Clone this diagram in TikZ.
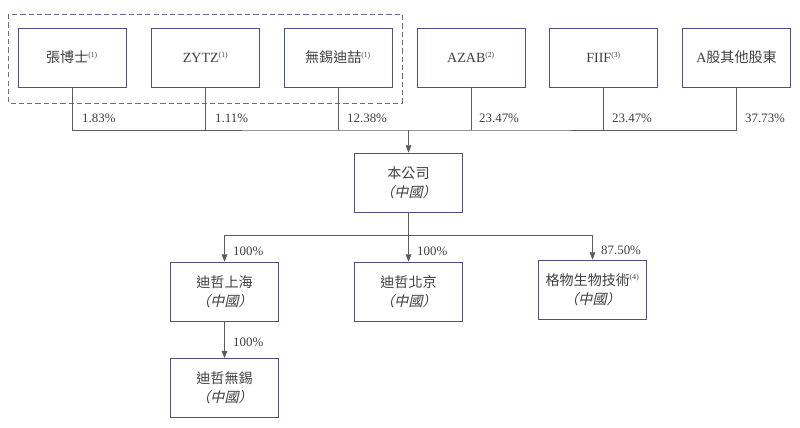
\documentclass[tikz,border=0pt]{standalone}
\usepackage{fontspec}
\setmainfont{Liberation Serif}
\newfontfamily\cjk{Noto Sans CJK TC}
\newfontfamily\cjkit[FakeSlant=0.22]{Noto Sans CJK TC}
\usetikzlibrary{arrows.meta}
\definecolor{boxline}{HTML}{4E4E88}
\definecolor{linkgray}{HTML}{5C5C5C}
\definecolor{txtgray}{HTML}{404040}
\newcommand{\fnmark}[1]{\textsuperscript{\rmfamily\fontsize{6.5}{7}\selectfont(#1)}}
\newcommand{\prc}{{\cjkit（中國）}}

\begin{document}
\begin{tikzpicture}[x=0.03cm, y=-0.03cm, thin,
  holder/.style={draw=boxline, fill=white, minimum width=3.24cm, minimum height=1.77cm, text=txtgray, align=center, font=\fontsize{12}{16.5}\selectfont\cjk, line width=0.6pt},
  link/.style={draw=linkgray, line width=0.6pt},
  pct/.style={anchor=west, text=txtgray, font=\fontsize{11}{13}\selectfont, inner sep=0pt},
  tip/.style={-{Triangle[length=2.2mm,width=1.7mm]}}]

            \useasboundingbox (0,0) rectangle (800,428);

            % shareholders
            \node[holder] at (72, 57.5) (zhang) {張博士\fnmark{1}};
            \node[holder] at (205.5, 57.5) (zytz) {\rmfamily ZYTZ\fnmark{1}};
            \node[holder] at (338, 57.5) (wuxi) {無錫迪喆\fnmark{1}};
            \node[holder] at (471, 57.5) (azab) {\rmfamily AZAB\fnmark{2}};
            \node[holder] at (603.5, 57.5) (fiif) {\rmfamily FIIF\fnmark{3}};
            \node[holder] at (736.5, 57.5) (others) {{\rmfamily A}股其他股東};
            \draw[boxline!85, line width=0.6pt, dash pattern=on 4.5pt off 2.6pt] (8,14) rectangle (402,103);

            % company and subsidiaries
            \node[holder] at (408.5, 182.5) (gongsi) {本公司\\\prc};
            \node[holder] at (224.5, 291.5) (shanghai) {迪哲上海\\\prc};
            \node[holder] at (408.5, 291.5) (beijing) {迪哲北京\\\prc};
            \node[holder] at (592.5, 289.5) (gewu) {格物生物技術\fnmark{4}\\\prc};
            \node[holder] at (224.5, 388) (wuxisub) {迪哲無錫\\\prc};

            \coordinate (bus) at (408.5, 130);
            \coordinate (bus2) at (408.5, 235);

            \draw[link] (zhang.south) |- (bus) -| (others.south);
            \draw[link] (zytz.south) -- (zytz.south |- bus);
            \draw[link] (wuxi.south) -- (wuxi.south |- bus);
            \draw[link] (azab.south) -- (azab.south |- bus);
            \draw[link] (fiif.south) -- (fiif.south |- bus);
            \draw[link, tip] (bus) -- (gongsi.north);

            \draw[link, tip] (gongsi.south) -- (beijing.north);
            \draw[link, tip] (bus2) -| (shanghai.north);
            \draw[link, tip] (bus2) -| (gewu.north);
            \draw[link, tip] (shanghai.south) -- (wuxisub.north);

            \node[pct] at (82, 118) (p1) {1.83\%};
            \node[pct] at (215, 118) (p2) {1.11\%};
            \node[pct] at (347, 118) (p3) {12.38\%};
            \node[pct] at (479, 118) (p4) {23.47\%};
            \node[pct] at (612, 118) (p5) {23.47\%};
            \node[pct] at (745, 118) (p6) {37.73\%};
            \node[pct] at (233, 251) (p7) {100\%};
            \node[pct] at (417, 251) (p8) {100\%};
            \node[pct] at (601, 250) (p9) {87.50\%};
            \node[pct] at (233, 342) (p10) {100\%};
        \end{tikzpicture}
\end{document}
